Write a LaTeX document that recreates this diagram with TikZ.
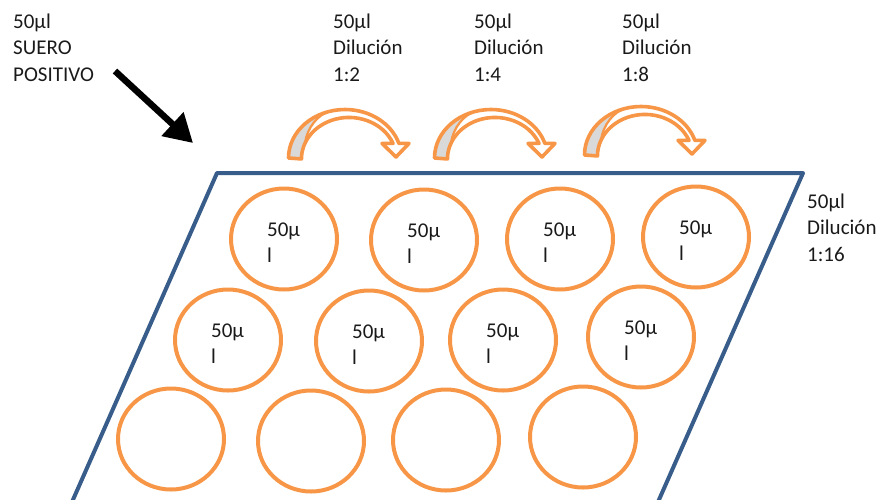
\documentclass[tikz,border=0pt]{standalone}
\usepackage{fontspec}
\setmainfont{Carlito}
\usetikzlibrary{shapes.geometric,arrows.meta}
\definecolor{wellorange}{HTML}{F79646}
\definecolor{plateblue}{HTML}{385D8A}
\definecolor{shadegray}{HTML}{D9D9D9}
\definecolor{txt}{HTML}{1A1A1A}
\tikzset{
  well/.style={ellipse, draw=wellorange, line width=4pt, minimum width=106pt, minimum height=101pt, inner sep=0pt},
  lbl/.style={anchor=base west, inner sep=0pt, align=left, text=txt, font=\fontsize{21}{26.5}\selectfont},
  welltxt/.style={anchor=base west, inner sep=0pt, align=left, text=txt, font=\fontsize{21}{26}\selectfont},
  curvout/.style={draw=wellorange, line width=3.6pt, line join=round},
}
\newcommand{\curvedarrow}{%
  \fill[white] (288.5,158) arc[start angle=180, end angle=342.5, x radius=56.5, y radius=48.5]
    -- (409,143.4) -- (396,157) -- (382,143.4) -- (393,143.4)
    arc[start angle=338, end angle=180, x radius=47.5, y radius=41.5] -- cycle;
  \fill[shadegray] (288.5,158) arc[start angle=180, end angle=255, x radius=56.5, y radius=48.5]
    .. controls (318,114) and (307,128) .. (305,143)
    arc[start angle=201, end angle=180, x radius=47.5, y radius=41.5] -- cycle;
  \draw[draw=wellorange, line width=2.2pt] (330.4,111.2) .. controls (318,114) and (307,128) .. (305,143);
  \draw[curvout] (288.5,158) arc[start angle=180, end angle=342.5, x radius=56.5, y radius=48.5]
    -- (409,143.4) -- (396,157) -- (382,143.4) -- (393,143.4)
    arc[start angle=338, end angle=180, x radius=47.5, y radius=41.5] -- cycle;
}
\begin{document}
\begin{tikzpicture}[x=1pt, y=-1pt]
\useasboundingbox (0,0) rectangle (880,499);
% plate
\draw[plateblue, line width=4pt, line join=round] (72,502) -- (217,173) -- (803,173) -- (658,502);
% wells
\foreach \n/\cx/\cy/\t in {a1/284/239/1, a2/424/240/1, a3/560/239/1, a4/696/237/1,
                          b1/228/340/1, b2/369/341/1, b3/503/340/1, b4/641/337/1,
                          c1/171/439/0, c2/311/441/0, c3/446/440/0, c4/583/437/0}{
  \node[well] (\n) at (\cx,\cy) {};
  \ifnum\t=1
    \node[welltxt] (t\n) at (\cx-17,\cy+23) {50µ\\l};
  \fi
}
% labels (anchor on the last line's baseline)
\node[lbl] (suero) at (13,81) {50µl\\SUERO\\POSITIVO};
\node[lbl] (d2) at (333,81) {50µl\\Dilución\\1:2};
\node[lbl] (d4) at (474,81) {50µl\\Dilución\\1:4};
\node[lbl] (d8) at (622,81) {50µl\\Dilución\\1:8};
\node[lbl] (d16) at (807,261) {50µl\\Dilución\\1:16};
% black arrow
\coordinate (bs) at (115,71);
\coordinate (be) at (193,143);
\draw[line width=6.5pt, -{Triangle[length=28pt, width=31pt]}] (bs) -- (be);
% curved transfer arrows
\begin{scope}\curvedarrow\end{scope}
\begin{scope}[shift={(146,0)}]\curvedarrow\end{scope}
\begin{scope}[shift={(296,-3)}]\curvedarrow\end{scope}
\end{tikzpicture}
\end{document}
